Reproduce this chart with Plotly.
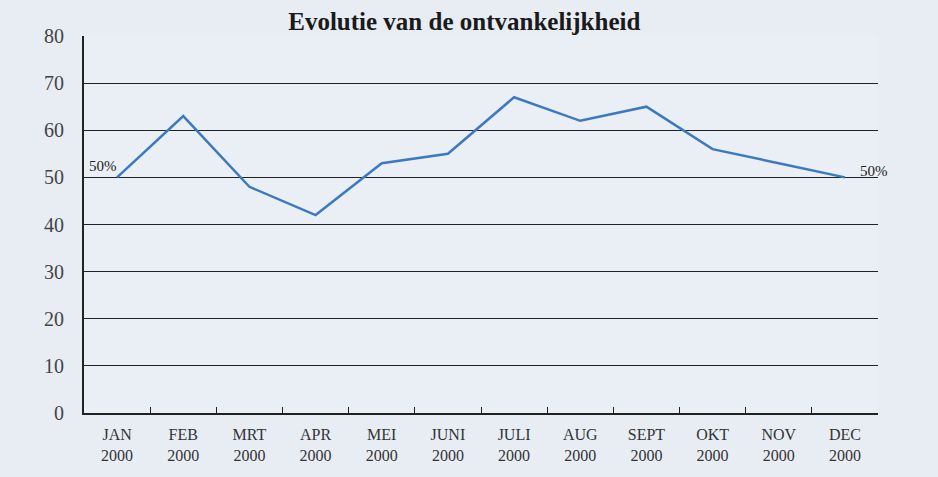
import plotly.graph_objects as go

months = ["JAN", "FEB", "MRT", "APR", "MEI", "JUNI", "JULI", "AUG", "SEPT", "OKT", "NOV", "DEC"]
year = "2000"
values = [50, 63, 48, 42, 53, 55, 67, 62, 65, 56, 53, 50]
y_ticks = [0, 10, 20, 30, 40, 50, 60, 70, 80]

labels = [f"{m}<br>{year}" for m in months]

fig = go.Figure()
fig.add_trace(go.Scatter(
    x=labels, y=values, mode="lines",
    line=dict(color="#3d79bf", width=2.5),
    showlegend=False, hoverinfo="skip",
))

fig.add_annotation(x=labels[0], y=values[0], text="50%", showarrow=False,
                   xanchor="right", yanchor="bottom", xshift=2, yshift=1,
                   font=dict(family="Liberation Serif", size=15, color="#222"))
fig.add_annotation(x=labels[-1], y=values[-1], text="50%", showarrow=False,
                   xanchor="left", yanchor="bottom", xshift=13, yshift=-4,
                   font=dict(family="Liberation Serif", size=15, color="#222"))

fig.update_layout(
    width=938, height=477,
    margin=dict(l=84, r=60, t=36, b=64),
    paper_bgcolor="#e8edf4",
    plot_bgcolor="#eaeff5",
    title=dict(text="<b>Evolutie van de ontvankelijkheid</b>", x=0.495, xanchor="center",
               y=0.955, yanchor="middle",
               font=dict(family="Liberation Serif", size=25, color="#1a1a1a")),
    xaxis=dict(
        type="category", tickson="boundaries", ticks="inside", ticklen=6,
        tickcolor="#222", showline=True, linecolor="#222", linewidth=2,
        showgrid=False, zeroline=False, ticklabelstandoff=6,
        tickfont=dict(family="Liberation Serif", size=16, color="#333"),
        range=[-0.5, 11.5],
    ),
    yaxis=dict(
        range=[0, 80], tickvals=y_ticks, showline=True, linecolor="#222", linewidth=2,
        showgrid=True, gridcolor="#222", gridwidth=1, zeroline=False,
        ticks="", ticklabelstandoff=14,
        tickfont=dict(family="Liberation Serif", size=20, color="#444"),
    ),
)

fig.write_html("out.html")
